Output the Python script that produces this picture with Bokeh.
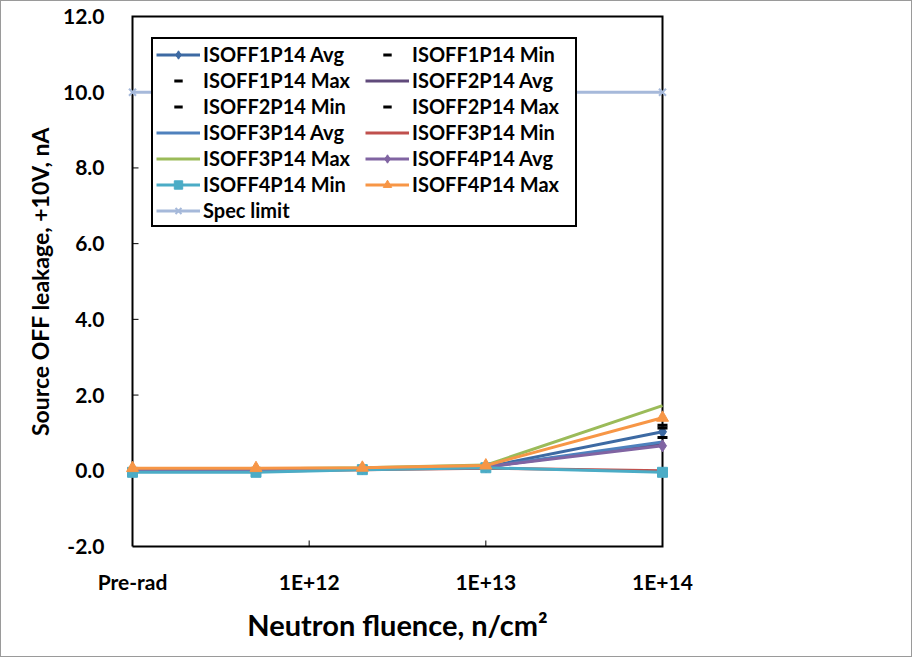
from bokeh.plotting import figure
from bokeh.models import FixedTicker, Legend, LegendItem, Range1d
from bokeh.embed import file_html
from bokeh.resources import INLINE

# ---- data ----
x_labels = ["Pre-rad", "1E+12", "1E+13", "1E+14"]
x_ticks = [1e11, 1e12, 1e13, 1e14]
y_ticks = [-2, 0, 2, 4, 6, 8, 10, 12]
fluence = [1e11, 5e11, 2e12, 1e13, 1e14]

isoff1_avg = [0.00, 0.00, 0.05, 0.10, 1.03]
isoff1_min = [-0.02, -0.01, 0.04, 0.08, 0.88]
isoff1_max = [0.03, 0.02, 0.07, 0.12, 1.20]
isoff2_avg = [0.00, 0.00, 0.05, 0.10, 0.72]
isoff2_min = [-0.02, -0.02, 0.04, 0.08, 0.00]
isoff2_max = [0.03, 0.03, 0.07, 0.12, 1.13]
isoff3_avg = [0.00, 0.00, 0.05, 0.10, 0.76]
isoff3_min = [0.00, -0.01, 0.03, 0.07, 0.00]
isoff3_max = [0.06, 0.05, 0.08, 0.15, 1.72]
isoff4_avg = [0.02, 0.02, 0.06, 0.10, 0.66]
isoff4_min = [-0.04, -0.04, 0.03, 0.08, -0.04]
isoff4_max = [0.07, 0.07, 0.08, 0.14, 1.40]
spec_x = [1e11, 1e14]
spec_limit = [10.0, 10.0]

FONT = "Lato"

# box limits (visible plot box) and a small invisible padding so edge markers are not clipped
X0, X1, Y0, Y1 = 1e11, 1e14, -2.0, 12.0
PX_PER_DEC = 530 / 3.0
PX_PER_UNIT = 530 / 14.0
PAD_X, PAD_Y = 8, 6
dx = PAD_X / PX_PER_DEC
dy = PAD_Y / PX_PER_UNIT

p = figure(width=912, height=657, x_axis_type="log", output_backend="svg",
           toolbar_location=None,
           x_range=Range1d(X0 / 10 ** dx, X1 * 10 ** dx),
           y_range=Range1d(Y0 - dy, Y1 + dy),
           min_border_left=123, min_border_right=243, min_border_top=9,
           min_border_bottom=106)
p.styles = {"border": "1px solid #9a9a9a"}
p.grid.visible = False
p.outline_line_color = None

# axes (labels only; box and ticks are drawn below)
p.xaxis.ticker = FixedTicker(ticks=x_ticks, minor_ticks=[])
p.xaxis.major_label_overrides = {t: l for t, l in zip(x_ticks, x_labels)}
p.yaxis.ticker = FixedTicker(ticks=y_ticks, minor_ticks=[])
p.yaxis.major_label_overrides = {v: f"{v:.1f}" for v in y_ticks}
for ax in (p.xaxis[0], p.yaxis[0]):
    ax.axis_line_color = None
    ax.major_tick_line_color = None
    ax.minor_tick_line_color = None
    ax.major_label_text_font = FONT
    ax.major_label_text_font_style = "bold"
    ax.major_label_text_font_size = "21px"
    ax.major_label_text_color = "black"
    ax.axis_label_text_font = FONT
    ax.axis_label_text_font_style = "bold"
    ax.axis_label_text_color = "black"
p.yaxis.major_label_standoff = 14
p.xaxis.major_label_standoff = 10
p.yaxis.axis_label = "Source OFF leakage, +10V, nA"
p.yaxis.axis_label_text_font_size = "23px"
p.yaxis.axis_label_standoff = 6
p.xaxis.axis_label = "Neutron fluence, n/cm²"
p.xaxis.axis_label_text_font_size = "29px"
p.xaxis.axis_label_standoff = 10

# plot box
p.line([X0, X1, X1, X0, X0], [Y0, Y0, Y1, Y1, Y0], line_color="black",
       line_width=2, line_join="miter")
# inward tick marks (6 px)
tick_dx = 10 ** (6 / PX_PER_DEC)
tick_dy = 6 / PX_PER_UNIT
yt = [t for t in y_ticks if Y0 < t < Y1]
p.segment([X0] * len(yt), yt, [X0 * tick_dx] * len(yt), yt, line_color="black", line_width=1)
xt = [t for t in x_ticks if X0 < t < X1]
p.segment(xt, [Y0] * len(xt), xt, [Y0 + tick_dy] * len(xt), line_color="black", line_width=1)

items = []
LW = 3

def line_series(name, ys, color, marker=None, msize=10, xs=None):
    xs = xs if xs is not None else fluence
    rs = [p.line(xs, ys, line_color=color, line_width=LW)]
    if marker:
        rs.append(p.scatter(xs, ys, marker=marker, size=msize, fill_color=color,
                            line_color=color, line_width=2 if marker == "x" else 1))
    items.append(LegendItem(label=name, renderers=rs))

def dash_series(name, ys):
    r = p.scatter(fluence, ys, marker="dash", size=10, line_color="black", line_width=3)
    items.append(LegendItem(label=name, renderers=[r]))

line_series("ISOFF1P14 Avg", isoff1_avg, "#3D6AA3", "diamond", 12)
dash_series("ISOFF1P14 Min", isoff1_min)
dash_series("ISOFF1P14 Max", isoff1_max)
line_series("ISOFF2P14 Avg", isoff2_avg, "#604A7B")
dash_series("ISOFF2P14 Min", isoff2_min)
dash_series("ISOFF2P14 Max", isoff2_max)
line_series("ISOFF3P14 Avg", isoff3_avg, "#4F81BD")
line_series("ISOFF3P14 Min", isoff3_min, "#C0504D")
line_series("ISOFF3P14 Max", isoff3_max, "#9BBB59")
line_series("ISOFF4P14 Avg", isoff4_avg, "#8064A2", "diamond", 12)
line_series("ISOFF4P14 Min", isoff4_min, "#4BACC6", "square", 10)
line_series("ISOFF4P14 Max", isoff4_max, "#F79646", "triangle", 12)
line_series("Spec limit", spec_limit, "#A6B9DA", "x", 10, xs=spec_x)

# legend is filled column by column: put even items in column 1, odd in column 2
ordered = items[0::2] + items[1::2]
legend = Legend(items=ordered, location="top_left", ncols=2,
                margin=27, padding=3, spacing=2,
                glyph_width=44, glyph_height=21, label_height=21,
                label_standoff=3, label_width=160,
                label_text_font=FONT, label_text_font_style="bold",
                label_text_font_size="20px", label_text_color="black",
                border_line_color="black", border_line_width=2, border_line_alpha=1.0,
                background_fill_color="white", background_fill_alpha=1.0)
p.add_layout(legend, "center")

open("out.html", "w").write(file_html(p, INLINE))
